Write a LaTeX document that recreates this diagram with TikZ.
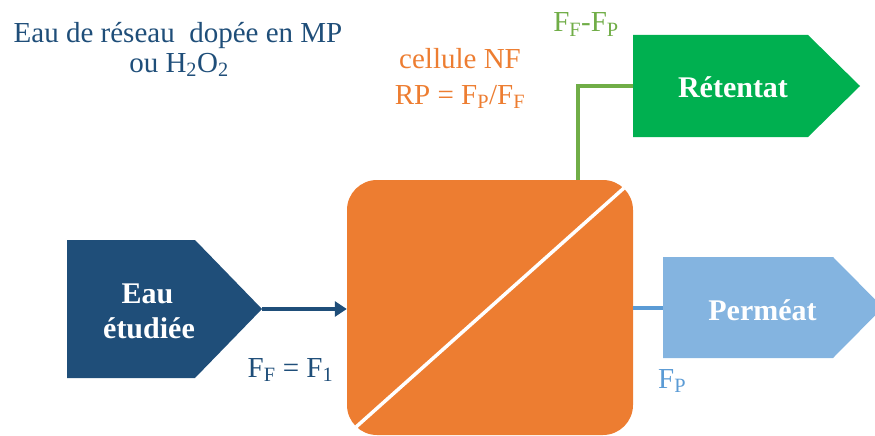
\documentclass[tikz,border=0pt]{standalone}
\usepackage{fontspec}
\setmainfont{Liberation Serif}
\usetikzlibrary{arrows.meta}
\definecolor{dblue}{RGB}{31,78,121}
\definecolor{corange}{RGB}{237,125,49}
\definecolor{cgreen}{RGB}{0,176,80}
\definecolor{lgreen}{RGB}{112,173,71}
\definecolor{lblue}{RGB}{132,180,224}
\definecolor{mblue}{RGB}{91,155,213}
\begin{document}
\begin{tikzpicture}[x=1pt,y=-1pt,
  lbl/.style={inner sep=0pt, anchor=base, font=\fontsize{29}{30}\selectfont},
  boxtxt/.style={inner sep=0pt, anchor=base, text=white, font=\fontsize{30}{30}\selectfont\bfseries},
  gline/.style={draw=lgreen, line width=4pt},
  bline/.style={draw=mblue, line width=4.5pt},
  arr/.style={draw=dblue, line width=3.5pt, -{Triangle[length=12pt,width=15pt]}}]
\useasboundingbox (0,0) rectangle (875,436);
\clip (0,0) rectangle (875,436);

% top-left caption
\node[lbl, text=dblue] (cap1) at (178,43) {Eau de réseau\ \ dopée en MP};
\node[lbl, text=dblue] (cap2) at (179,72) {ou H\textsubscript{2}O\textsubscript{2}};

% cell caption
\node[lbl, text=corange] (cel1) at (460,68) {cellule NF};
\node[lbl, text=corange] (cel2) at (460,104) {RP = F\textsubscript{P}/F\textsubscript{F}};

% NF cell
\node[fill=corange, rounded corners=30pt, minimum width=286pt, minimum height=255pt, inner sep=0pt] (cell) at (490,307.5) {};
\begin{scope}
  \clip[rounded corners=30pt] (cell.south west) rectangle (cell.north east);
  \draw[white, line width=3.5pt] (cell.south west) -- (cell.north east);
\end{scope}

% feed
\fill[dblue] (67,240) -- (195,240) -- (262,309) -- (195,378) -- (67,378) -- cycle;
\coordinate (eau-tip) at (262,309);
\node[boxtxt] (eau1) at (147.5,303) {Eau};
\node[boxtxt] (eau2) at (149,338) {étudiée};
\draw[arr] (eau-tip) -- (eau-tip -| cell.west);
\node[lbl, text=dblue] (ff) at (290.5,377) {F\textsubscript{F} = F\textsubscript{1}};

% retentate
\fill[cgreen] (633,35) -- (808,35) -- (860,86) -- (808,137) -- (633,137) -- cycle;
\coordinate (ret-w) at (633,86);
\node[boxtxt] (ret) at (733,97) {Rétentat};
\draw[gline] (ret-w) -| ([xshift=88pt]cell.north);
\node[lbl, text=lgreen] (ffp) at (586,32) {F\textsubscript{F}-F\textsubscript{P}};

% permeate
\fill[lblue] (663,257) -- (833,257) -- (883,307.5) -- (833,358) -- (663,358) -- cycle;
\coordinate (perm-w) at (663,308);
\node[boxtxt] (perm) at (762.5,320) {Perméat};
\draw[bline] (cell.east |- perm-w) -- (perm-w);
\node[lbl, text=mblue, anchor=base west] (fp) at (658,388) {F\textsubscript{P}};
\end{tikzpicture}
\end{document}
